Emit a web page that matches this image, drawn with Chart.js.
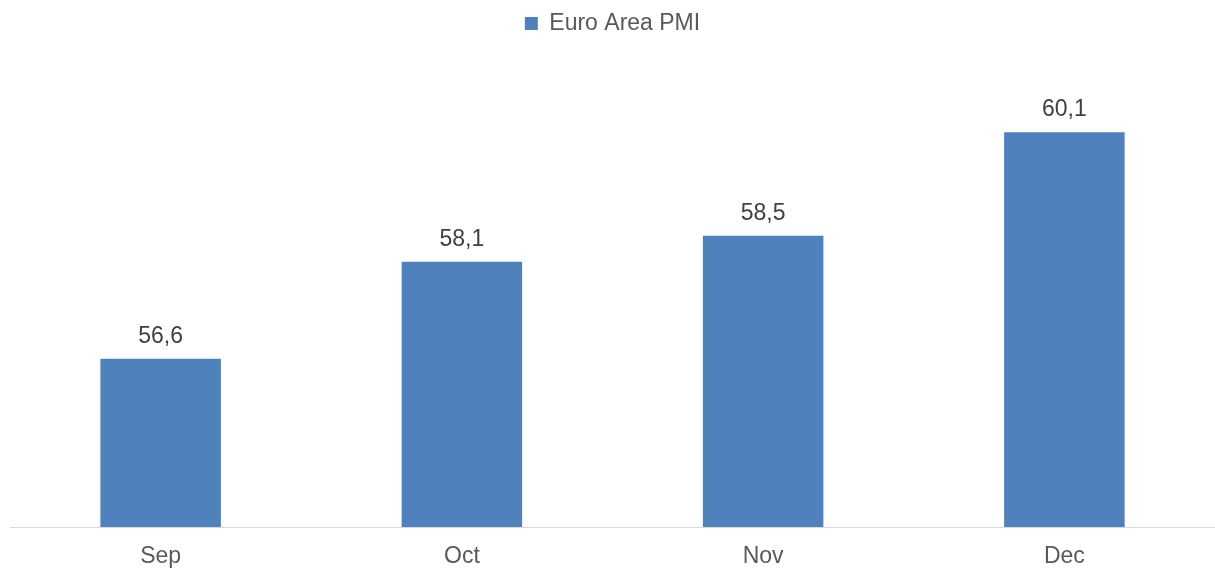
<!DOCTYPE html>
<html>
<head>
<meta charset="utf-8">
<script src="https://cdn.jsdelivr.net/npm/chart.js@4/dist/chart.umd.min.js"></script>
<style>
  html, body { margin: 0; padding: 0; background: #ffffff; }
  #wrap { width: 1215px; height: 568px; position: relative; }
</style>
</head>
<body>
<div id="wrap"><canvas id="pmiChart"></canvas></div>
<script>
const meses = ['Sep', 'Oct', 'Nov', 'Dec'];
const pmi = [56.6, 58.1, 58.5, 60.1];
const serieNome = 'Euro Area PMI';

const corBarra = '#4f81bd';
const corTexto = '#595959';
const fonte = '"Liberation Sans", Arial, sans-serif';

// reserva espaço fixo abaixo da legenda
const alturaLegenda = {
    id: 'alturaLegenda',
    beforeInit(chart) {
        const fitOriginal = chart.legend.fit;
        chart.legend.fit = function () {
            fitOriginal.bind(chart.legend)();
            this.height = 74;
        };
    }
};

// escreve o valor acima de cada barra, com vírgula decimal
const rotulosValor = {
    id: 'rotulosValor',
    afterDatasetsDraw(chart) {
        const ctx = chart.ctx;
        const meta = chart.getDatasetMeta(0);
        ctx.save();
        ctx.font = '23px ' + fonte;
        ctx.fillStyle = '#404040';
        ctx.textAlign = 'center';
        ctx.textBaseline = 'alphabetic';
        meta.data.forEach((barra, i) => {
            const texto = pmi[i].toFixed(1).replace('.', ',');
            ctx.fillText(texto, barra.x, barra.y - 16);
        });
        ctx.restore();
    }
};

new Chart(document.getElementById('pmiChart').getContext('2d'), {
    type: 'bar',
    data: {
        labels: meses,
        datasets: [{
            label: serieNome,
            data: pmi,
            backgroundColor: corBarra,
            borderWidth: 0,
            barPercentage: 0.4,
            categoryPercentage: 1
        }]
    },
    options: {
        responsive: true,
        maintainAspectRatio: false,
        animation: false,
        layout: {
            padding: { left: 10, right: 0, top: 0, bottom: 0 }
        },
        plugins: {
            legend: {
                display: true,
                position: 'top',
                labels: {
                    boxWidth: 13,
                    boxHeight: 13,
                    color: corTexto,
                    font: { family: fonte, size: 23 },
                    padding: 12
                }
            },
            tooltip: { enabled: false }
        },
        scales: {
            x: {
                grid: { display: false, drawTicks: false },
                border: { display: true, color: '#d9d9d9', width: 1 },
                ticks: {
                    color: corTexto,
                    padding: 16,
                    font: { family: fonte, size: 23 }
                },
                afterFit(escala) {
                    escala.height = 41;
                }
            },
            y: {
                display: false,
                min: 54,
                max: 61
            }
        }
    },
    plugins: [alturaLegenda, rotulosValor]
});
</script>
</body>
</html>
